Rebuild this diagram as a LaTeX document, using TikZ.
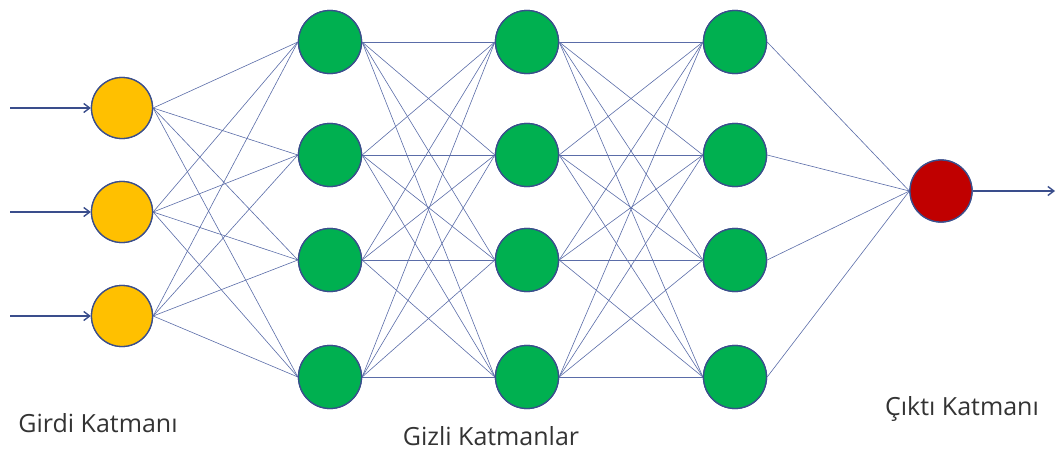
\documentclass[tikz,border=0pt]{standalone}
\usepackage{fontspec}
\setmainfont{Open Sans}
\usetikzlibrary{arrows.meta}
\definecolor{edgec}{HTML}{5A6CA8}
\definecolor{bordc}{HTML}{3A4E8C}
\definecolor{inc}{HTML}{FFC000}
\definecolor{hidc}{HTML}{00B050}
\definecolor{outc}{HTML}{C00000}
\definecolor{txtc}{HTML}{333333}
\tikzset{
  neuron/.style={circle, draw=bordc, line width=1.3pt, minimum size=61pt, inner sep=0pt},
  inneuron/.style={neuron, fill=inc},
  hidneuron/.style={neuron, fill=hidc, minimum size=63pt},
  outneuron/.style={neuron, fill=outc, minimum size=62pt},
  conn/.style={draw=edgec, line width=0.6pt},
  feed/.style={draw=bordc, line width=1.4pt, -{Straight Barb[length=6pt,width=9pt]}},
  lbl/.style={text=txtc, font=\fontsize{25}{30}\selectfont}
}
\begin{document}
\begin{tikzpicture}[x=1pt,y=-1pt]
\useasboundingbox (0,0) rectangle (1056,453);
% node positions (drawn first to define names)
\foreach \i/\y in {1/108,2/212,3/316} \node[inneuron] (i\i) at (122,\y) {};
\foreach \l/\x in {1/330,2/527,3/735}
  \foreach \j/\y in {1/42,2/155,3/260,4/377}
    \node[hidneuron] (h\l\j) at (\x,\y) {};
\node[outneuron] (o) at (941,191) {};
% connections
\foreach \i in {1,2,3} \foreach \j in {1,2,3,4} \path[conn] (i\i.east) -- (h1\j.west);
\foreach \i in {1,2,3,4} \foreach \j in {1,2,3,4} {\path[conn] (h1\i.east) -- (h2\j.west); \path[conn] (h2\i.east) -- (h3\j.west);}
\foreach \i in {1,2,3,4} \path[conn] (h3\i.east) -- (o.west);
% redraw nodes on top of connections
\foreach \i/\y in {1/108,2/212,3/316} \node[inneuron] at (122,\y) {};
\foreach \l/\x in {1/330,2/527,3/735}
  \foreach \j/\y in {1/42,2/155,3/260,4/377}
    \node[hidneuron] at (\x,\y) {};
\node[outneuron] at (941,191) {};
% input/output arrows
\foreach \i/\y in {1/108,2/212,3/316} {
  \coordinate (s\i) at (10,\y);
  \draw[feed] (s\i) -- (i\i);
}
\coordinate (e) at (1055,191);
\draw[feed] (o) -- (e);
% labels
\node[lbl] (l1) at (98,423) {Girdi Katmanı};
\node[lbl] (l2) at (491,436) {Gizli Katmanlar};
\node[lbl] (l3) at (962,409) {Çıktı Katmanı};
\end{tikzpicture}
\end{document}
